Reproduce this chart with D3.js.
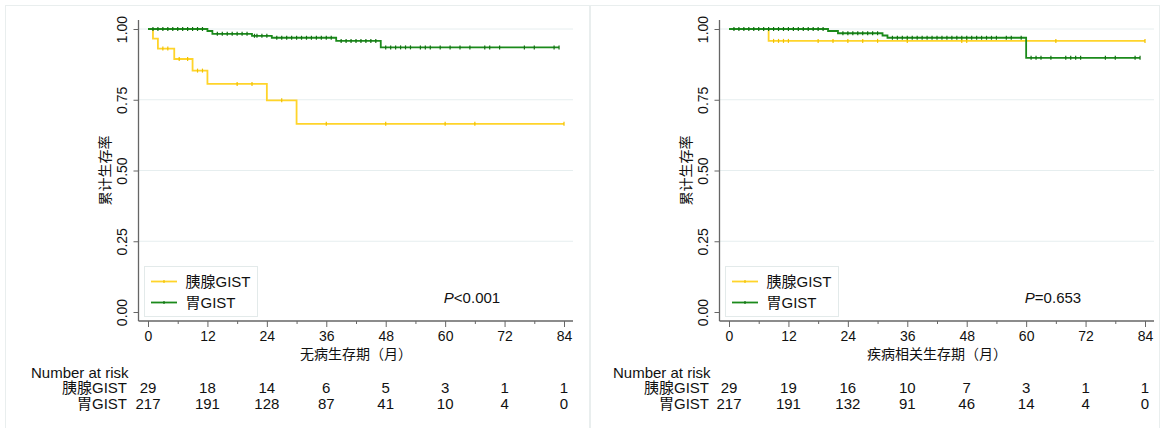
<!DOCTYPE html>
<html>
<head>
<meta charset="utf-8">
<script src="https://cdn.jsdelivr.net/npm/d3@7"></script>
<style>
  html, body { margin: 0; padding: 0; background: #fff; }
  #chart { width: 1164px; height: 428px; }
  text { font-family: "Liberation Sans", Arial, "Noto Sans CJK SC", sans-serif; fill: #111; }
</style>
</head>
<body>
<div id="chart"></div>
<script>
// Kaplan-Meier curves: pancreatic vs gastric GIST

const months = [0, 12, 24, 36, 48, 60, 72, 84];
const minorMonths = [6, 18, 30, 42, 54, 66, 78];
const yTicks = [0, 0.25, 0.5, 0.75, 1];
const groupNames = ["胰腺GIST", "胃GIST"];

// disease-free survival (left)
const dfsPancTime = [0, 1, 2, 5.3, 9, 12, 24, 30];
const dfsPancSurv = [1, 0.966, 0.931, 0.894, 0.853, 0.806, 0.748, 0.665];
const dfsPancCens = [3, 4, 6.3, 8, 10, 11, 18, 21, 27, 36, 48, 60, 66, 84];
const dfsPancEnd = 84;
const dfsStomTime = [0, 12, 13, 21, 25, 38, 47];
const dfsStomSurv = [1, 0.993, 0.983, 0.976, 0.969, 0.958, 0.935];
const dfsStomCens = [1, 2, 3, 4, 5, 6, 7, 8, 9, 10, 11, 14, 15, 16, 17, 18, 19, 20,
  21.5, 22, 23, 24, 26, 27, 28, 29, 30, 31, 32, 33, 34, 35, 36, 37, 39, 40, 41, 42, 43,
  44, 45, 46, 48, 49, 50, 51, 52, 53, 55, 56, 57, 59, 61, 63, 65, 68, 69, 71, 76, 78, 82, 83];
const dfsStomEnd = 83;
const riskDfsPanc = [29, 18, 14, 6, 5, 3, 1, 1];
const riskDfsStom = [217, 191, 128, 87, 41, 10, 4, 0];

// disease-specific survival (right)
const dssPancTime = [0, 8];
const dssPancSurv = [1, 0.958];
const dssPancCens = [9, 10, 11, 12, 18, 21, 24, 27, 30, 36, 47, 48, 66, 84];
const dssPancEnd = 84;
const dssStomTime = [0, 20, 22, 31, 32, 60];
const dssStomSurv = [1, 0.993, 0.985, 0.977, 0.969, 0.898];
const dssStomCens = [1, 2, 3, 4, 5, 6, 7, 8, 9, 10, 11, 12, 13, 14, 15, 16, 17, 18, 19,
  23, 24, 25, 26, 27, 28, 29, 30, 33, 34, 35, 36, 37, 38, 39, 40, 41, 42, 43, 44, 45, 46,
  47, 48, 49, 50, 51, 52, 53, 54, 56, 57, 59, 61, 62, 63, 65, 68, 69, 70, 71, 76, 78, 82, 83];
const dssStomEnd = 83;
const riskDssPanc = [29, 19, 16, 10, 7, 3, 1, 1];
const riskDssStom = [217, 191, 132, 91, 46, 14, 4, 0];

const YELLOW = "#ffd42a";
const GREEN = "#1b8a1b";
const AXIS = "#666";
const GRID = "#e6eeef";

const svg = d3.select("#chart").append("svg")
  .attr("width", 1164).attr("height", 428);

function drawPanel(ox, cfg) {
  const g = svg.append("g").attr("transform", `translate(${ox},0)`);

  // panel frame (bottom edge runs off the page, as in the source)
  g.append("rect")
    .attr("x", cfg.frame[0]).attr("y", 5.5)
    .attr("width", cfg.frame[1]).attr("height", 430)
    .attr("fill", "none").attr("stroke", "#e9eeee");

  const x = d3.scaleLinear().domain([0, 84]).range([148, 564]);
  const y = d3.scaleLinear().domain([0, 1]).range([312, 29]);
  const axisX = x(0) - 9.5;
  const axisY = 321;

  // grid
  g.append("g").selectAll("line")
    .data(yTicks.filter(d => d > 0))
    .join("line")
    .attr("x1", axisX).attr("x2", x(84) + 9)
    .attr("y1", d => y(d)).attr("y2", d => y(d))
    .attr("stroke", GRID).attr("stroke-width", 1);

  // y axis
  const ya = g.append("g").attr("transform", `translate(${axisX},0)`)
    .call(d3.axisLeft(y).tickValues(yTicks).tickFormat(d3.format(".2f")).tickSize(5));
  ya.select(".domain").remove();
  ya.selectAll("line").attr("stroke", AXIS);
  ya.selectAll("text")
    .attr("x", 0).attr("dy", 0)
    .attr("transform", "translate(-11.5,0) rotate(-90)")
    .attr("text-anchor", "middle")
    .style("font-size", "14px").style("font-family", "Liberation Sans, Arial, sans-serif");
  g.append("line")
    .attr("x1", axisX).attr("x2", axisX).attr("y1", 20).attr("y2", axisY)
    .attr("stroke", AXIS).attr("stroke-width", 1.3);

  // x axis
  const xa = g.append("g").attr("transform", `translate(0,${axisY})`)
    .call(d3.axisBottom(x).tickValues(months).tickSize(6).tickPadding(4));
  xa.select(".domain").remove();
  xa.selectAll("line").attr("stroke", AXIS);
  xa.selectAll("text").style("font-size", "14px")
    .style("font-family", "Liberation Sans, Arial, sans-serif");
  const xm = g.append("g").attr("transform", `translate(0,${axisY})`)
    .call(d3.axisBottom(x).tickValues(minorMonths).tickSize(3).tickFormat(""));
  xm.select(".domain").remove();
  xm.selectAll("line").attr("stroke", AXIS);
  g.append("line")
    .attr("x1", axisX).attr("x2", x(84) + 9).attr("y1", axisY).attr("y2", axisY)
    .attr("stroke", AXIS).attr("stroke-width", 1.3);

  // axis titles
  g.append("text")
    .attr("transform", `translate(105,${y(0.5)}) rotate(-90)`)
    .attr("text-anchor", "middle").attr("dy", "0.35em")
    .style("font-size", "14px").style("font-family", "Noto Sans CJK SC, sans-serif")
    .text("累计生存率");
  g.append("text")
    .attr("x", (x(0) + x(84)) / 2).attr("y", 359)
    .attr("text-anchor", "middle")
    .style("font-size", "14px").style("font-family", "Noto Sans CJK SC, sans-serif")
    .text(cfg.xTitle);

  // curves
  const line = d3.line().x(d => x(d[0])).y(d => y(d[1])).curve(d3.curveStepAfter);
  cfg.series.forEach(s => {
    const pts = s.time.map((t, i) => [t, s.surv[i]]);
    pts.push([s.end, s.surv[s.surv.length - 1]]);
    g.append("path").datum(pts)
      .attr("d", line).attr("fill", "none")
      .attr("stroke", s.color).attr("stroke-width", 1.8);
    const survAt = t => s.surv[d3.bisectRight(s.time, t) - 1];
    g.append("g").selectAll("line")
      .data(s.cens)
      .join("line")
      .attr("x1", d => x(d)).attr("x2", d => x(d))
      .attr("y1", d => y(survAt(d)) - 2).attr("y2", d => y(survAt(d)) + 2)
      .attr("stroke", s.tick).attr("stroke-width", 1.2);
  });

  // legend
  const lg = g.append("g");
  lg.append("rect")
    .attr("x", 144.5).attr("y", 266.5).attr("width", 113).attr("height", 50)
    .attr("fill", "#fff").attr("stroke", "#e3eaea");
  cfg.series.forEach((s, i) => {
    const ly = 281.5 + i * 21;
    lg.append("line")
      .attr("x1", 151).attr("x2", 177).attr("y1", ly).attr("y2", ly)
      .attr("stroke", s.color).attr("stroke-width", 1.8);
    lg.append("line")
      .attr("x1", 164).attr("x2", 164).attr("y1", ly - 1.5).attr("y2", ly + 1.5)
      .attr("stroke", s.tick).attr("stroke-width", 1.2);
    lg.append("text")
      .attr("x", 185.5).attr("y", ly).attr("dy", "0.36em")
      .style("font-size", "15px")
      .text(groupNames[i]);
  });

  // p value
  const pt = g.append("text")
    .attr("x", 472).attr("y", 303).attr("text-anchor", "middle")
    .style("font-size", "15px");
  pt.append("tspan").style("font-style", "italic").text("P");
  pt.append("tspan").text(cfg.pText);

  // number at risk
  g.append("text")
    .attr("x", cfg.riskLabelX).attr("y", 378)
    .style("font-size", "15px").text("Number at risk");
  cfg.series.forEach((s, i) => {
    const ry = 393 + i * 16;
    g.append("text")
      .attr("x", cfg.riskNameX).attr("y", ry).attr("text-anchor", "end")
      .style("font-size", "15px").text(groupNames[i]);
    g.append("g").selectAll("text")
      .data(s.risk)
      .join("text")
      .attr("x", (d, j) => x(months[j])).attr("y", ry)
      .attr("text-anchor", "middle")
      .style("font-size", "15px")
      .text(d => d);
  });
}

drawPanel(0, {
  frame: [5.5, 584],
  xTitle: "无病生存期（月）",
  pText: "<0.001",
  riskLabelX: 31,
  riskNameX: 127,
  series: [
    { time: dfsPancTime, surv: dfsPancSurv, cens: dfsPancCens, end: dfsPancEnd,
      risk: riskDfsPanc, color: YELLOW, tick: "#f2c200" },
    { time: dfsStomTime, surv: dfsStomSurv, cens: dfsStomCens, end: dfsStomEnd,
      risk: riskDfsStom, color: GREEN, tick: "#137013" }
  ]
});

drawPanel(581, {
  frame: [9.5, 569],
  xTitle: "疾病相关生存期（月）",
  pText: "=0.653",
  riskLabelX: 32,
  riskNameX: 128,
  series: [
    { time: dssPancTime, surv: dssPancSurv, cens: dssPancCens, end: dssPancEnd,
      risk: riskDssPanc, color: YELLOW, tick: "#f2c200" },
    { time: dssStomTime, surv: dssStomSurv, cens: dssStomCens, end: dssStomEnd,
      risk: riskDssStom, color: GREEN, tick: "#137013" }
  ]
});
</script>
</body>
</html>
